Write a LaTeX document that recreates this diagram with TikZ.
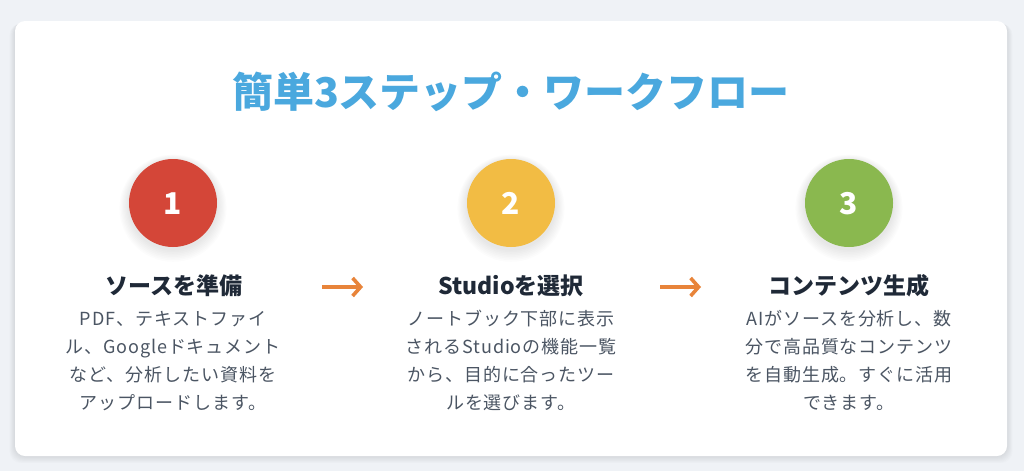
\documentclass[tikz,border=0pt]{standalone}
\usepackage{fontspec}
\setmainfont{Noto Sans CJK JP}
\usetikzlibrary{arrows.meta}
\definecolor{bgc}{HTML}{EFF2F6}
\definecolor{titlec}{HTML}{4AA8DE}
\definecolor{headc}{HTML}{1F2937}
\definecolor{descc}{HTML}{4B5563}
\definecolor{redc}{HTML}{D44638}
\definecolor{yelc}{HTML}{F2BC44}
\definecolor{grnc}{HTML}{8AB84F}
\definecolor{arrc}{HTML}{E8843A}
\tikzset{
  numcircle/.style={circle,minimum size=88pt,inner sep=0pt,text=white,font=\fontsize{30}{30}\selectfont\bfseries},
  numtext/.style={anchor=base,inner sep=0pt,text=white,font=\fontsize{30}{30}\selectfont\bfseries},
  stephead/.style={anchor=base,text=headc,inner sep=0pt,font=\fontsize{23}{28}\selectfont\bfseries},
  stepdesc/.style={anchor=base,text=descc,inner sep=0pt,align=center,font=\addfontfeatures{LetterSpace=5}\fontsize{18}{28}\selectfont},
  flowarrow/.style={arrc,line width=3.6pt,-{Straight Barb[length=8pt,width=18pt,line width=3.6pt]}},
}
\begin{document}
\begin{tikzpicture}[x=1pt,y=-1pt]
\useasboundingbox (0,0) rectangle (1024,471);
\fill[bgc] (0,0) rectangle (1024,471);
% card shadow
\foreach \i in {1,...,8}{
  \fill[black,opacity=0.012,rounded corners=12pt] (15-\i*0.7,21+\i*0.3) rectangle (1007+\i*0.7,456+\i*0.9);
}
\fill[white,rounded corners=10pt] (15,21) rectangle (1007,456);
% title
\node[anchor=base,text=titlec,inner sep=0pt,font=\fontsize{41}{41}\selectfont\bfseries] (title) at (511,107) {簡単3ステップ・ワークフロー};
% circle shadows
\foreach \cx in {173,511,849}{
  \foreach \i in {1,...,8}{
    \fill[black,opacity=0.01] (\cx,205+\i*0.4) circle (44+\i*1.2);
  }
}
\node[numcircle,fill=redc] (c1) at (173,203) {};
\node[numcircle,fill=yelc] (c2) at (511,203) {};
\node[numcircle,fill=grnc] (c3) at (849,203) {};
\node[numtext] (n1) at (173,214) {1};
\node[numtext] (n2) at (511,214) {2};
\node[numtext] (n3) at (849,214) {3};
% step headings
\node[stephead] (h1) at (174,294) {ソースを準備};
\node[stephead] (h2) at (511,294) {Studioを選択};
\node[stephead] (h3) at (849,294) {コンテンツ生成};
% descriptions (base = last line)
\node[stepdesc] (d1) at (173,409) {PDF、テキストファイ\\ル、Googleドキュメント\\など、分析したい資料を\\アップロードします。};
\node[stepdesc] (d2) at (511,409) {ノートブック下部に表示\\されるStudioの機能一覧\\から、目的に合ったツー\\ルを選びます。};
\node[stepdesc] (d3) at (849,409) {AIがソースを分析し、数\\分で高品質なコンテンツ\\を自動生成。すぐに活用\\できます。};
% arrows
\coordinate (a1s) at (322,287);
\coordinate (a1e) at (363,287);
\coordinate (a2s) at (660,287);
\coordinate (a2e) at (701,287);
\draw[flowarrow] (a1s) -- (a1e);
\draw[flowarrow] (a2s) -- (a2e);
\end{tikzpicture}
\end{document}
